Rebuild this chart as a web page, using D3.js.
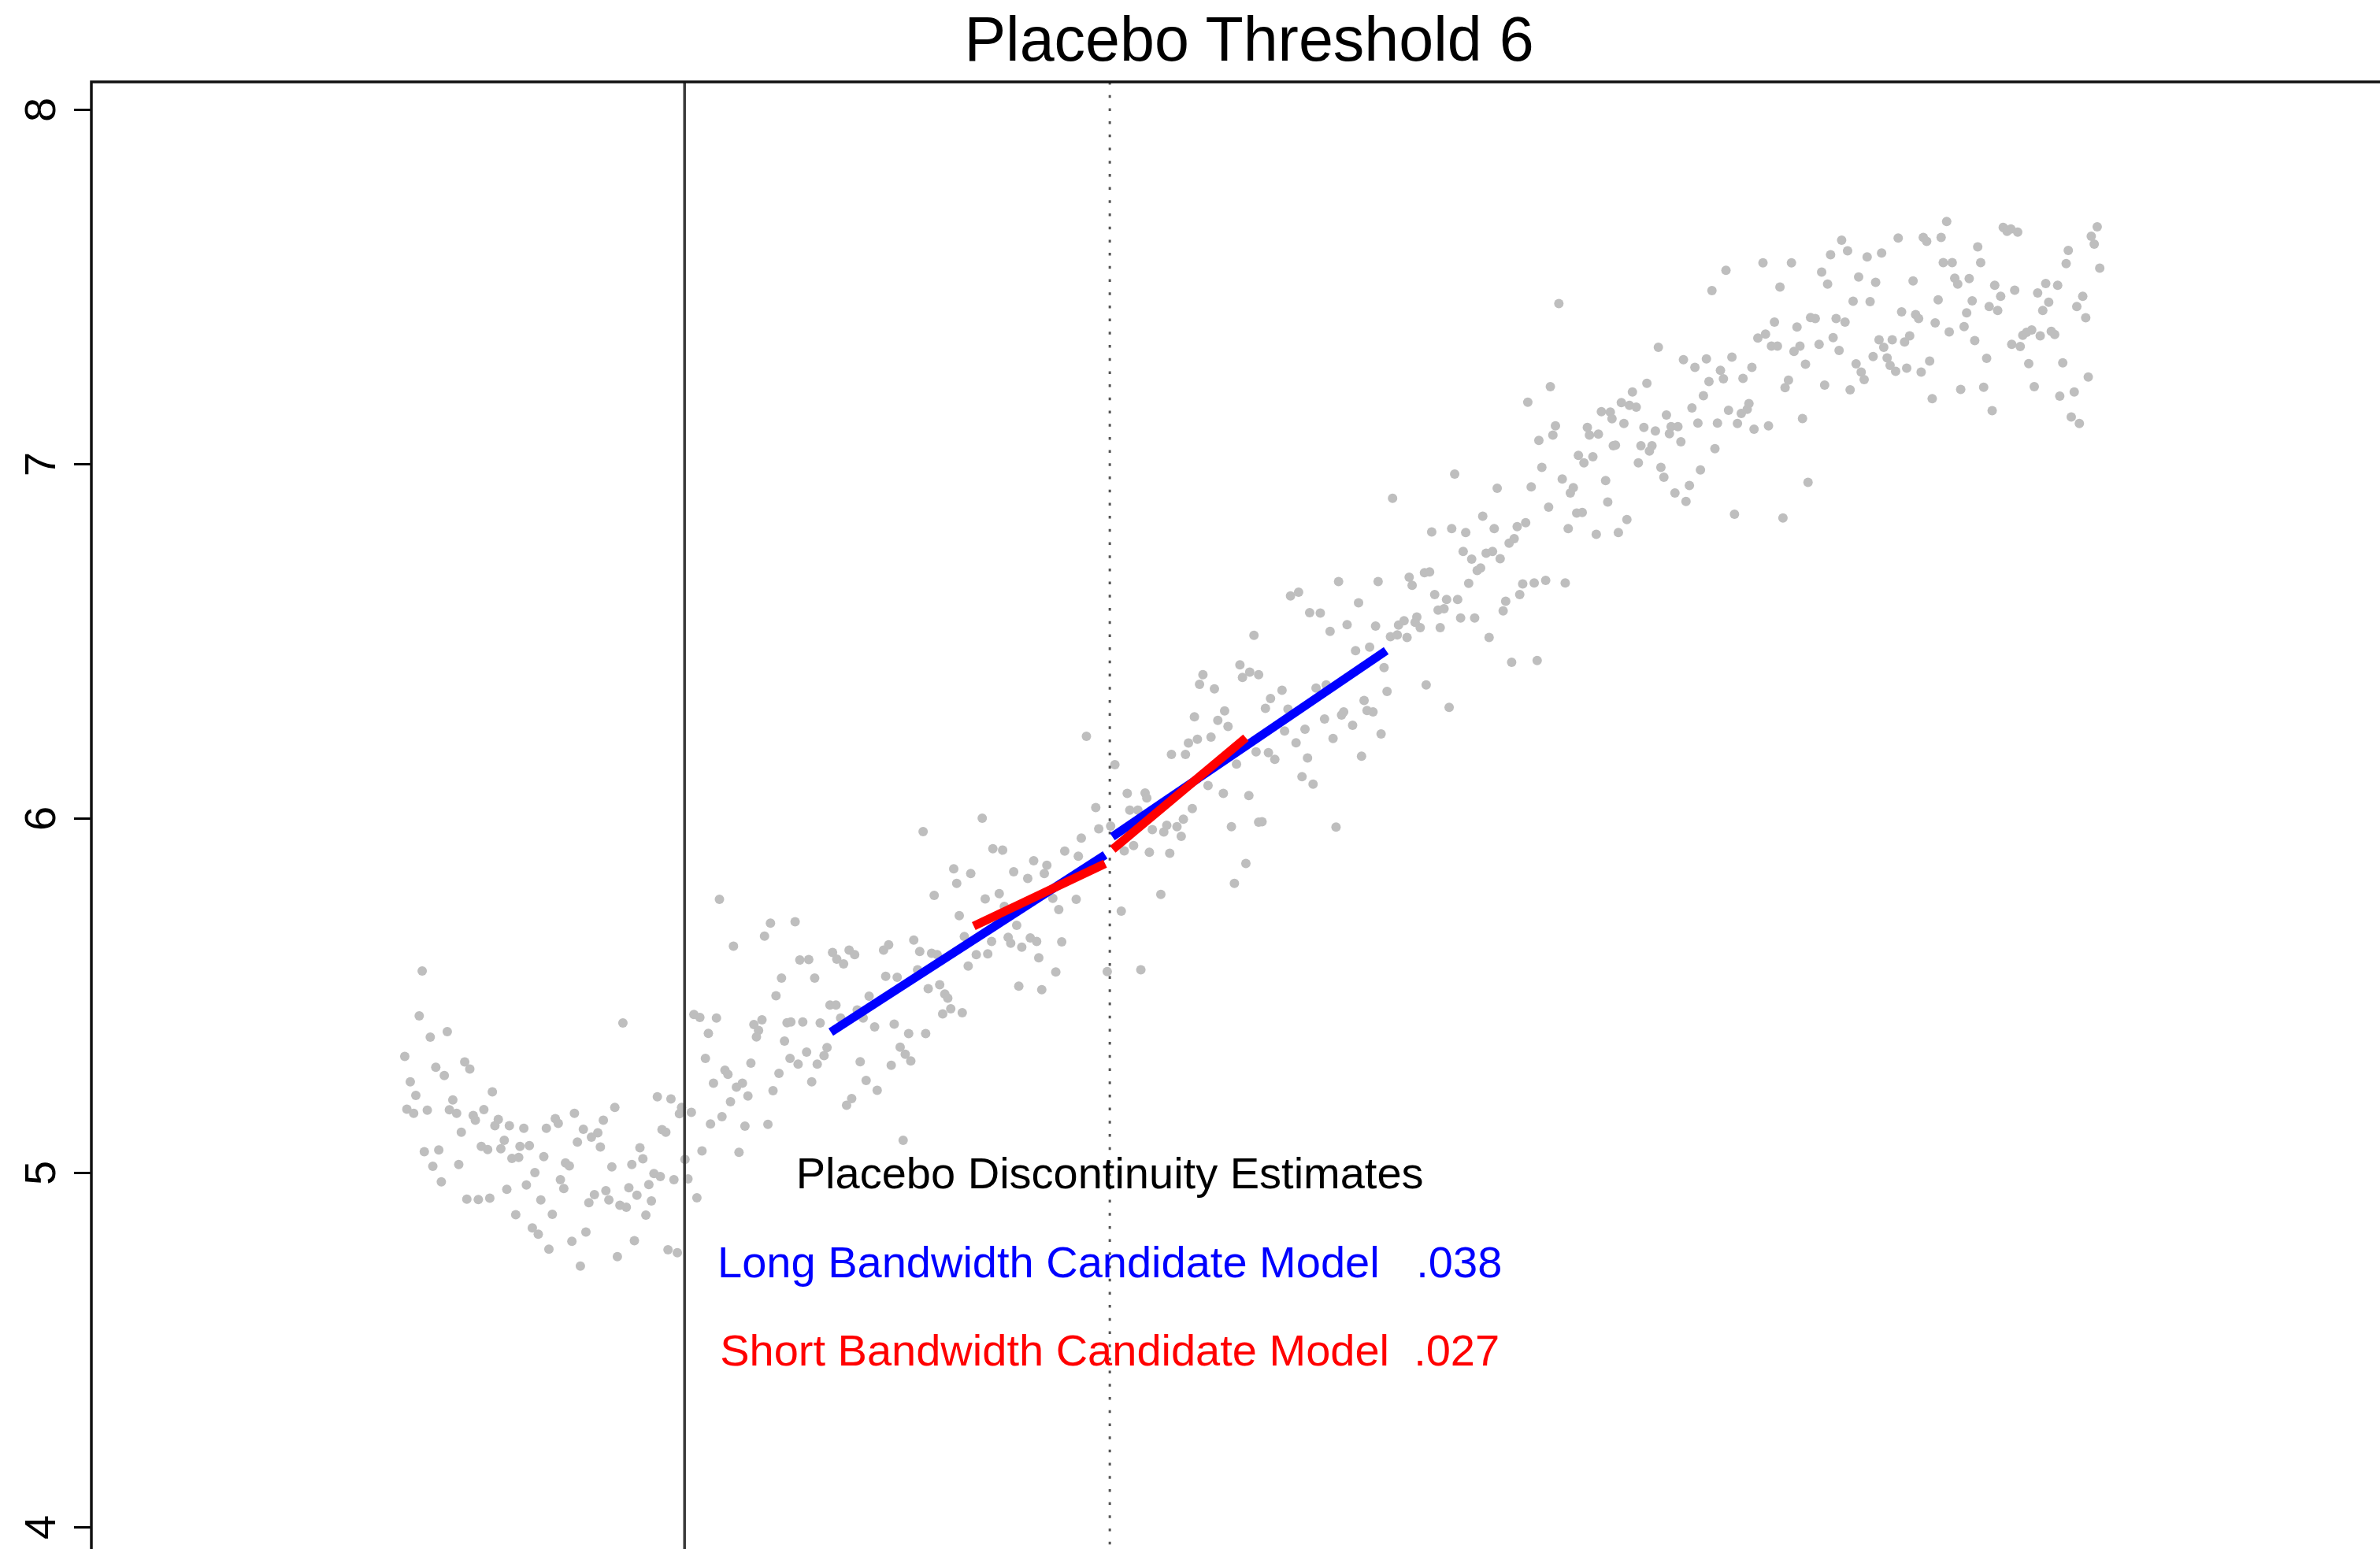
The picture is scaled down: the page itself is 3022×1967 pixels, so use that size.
<!DOCTYPE html>
<html>
<head>
<meta charset="utf-8">
<script src="https://cdn.jsdelivr.net/npm/d3@7"></script>
<style>
  html, body { margin: 0; padding: 0; background: #fff; overflow: hidden; }
  svg { display: block; }
  text { font-family: "Liberation Sans", Arial, Helvetica, sans-serif; }
</style>
</head>
<body>
<svg id="chart" width="3022" height="1967"></svg>
<script>
// ---- data -------------------------------------------------------------
const chartTitle = "Placebo Threshold 6";
const actualCutoff = 5;
const placeboCutoff = 6;
const yTickValues = [4, 5, 6, 7, 8];

// binned observations: [running variable, outcome]
const observations = [
  [4.383,5.569],[4.376,5.442],[4.402,5.382],[4.442,5.398],[4.342,5.328],[4.415,5.297],[4.435,5.274],[4.483,5.312],[4.495,5.292],[4.355,5.256],
  [4.368,5.218],[4.347,5.179],[4.363,5.167],[4.395,5.176],[4.455,5.205],[4.447,5.177],[4.464,5.167],[4.548,5.228],[4.503,5.161],[4.508,5.148],
  [4.528,5.178],[4.562,5.150],[4.554,5.132],[4.475,5.114],[4.588,5.132],[4.622,5.125],[4.388,5.059],[4.422,5.064],[4.408,5.018],[4.428,4.974],
  [4.469,5.023],[4.522,5.074],[4.537,5.065],[4.576,5.091],[4.568,5.067],[4.613,5.074],[4.635,5.076],[4.594,5.040],[4.610,5.043],[4.669,5.045],
  [4.648,5.000],[4.628,4.965],[4.582,4.953],[4.488,4.925],[4.515,4.924],[4.542,4.928],[4.662,4.923],[4.603,4.881],[4.689,4.882],[4.642,4.844],
  [4.656,4.826],[4.681,4.784],[4.735,4.806],[4.768,4.832],[4.755,4.736],[4.842,4.763],[4.882,4.808],[4.961,4.782],[4.983,4.774],[4.696,5.152],
  [4.703,5.139],[4.675,5.125],[4.741,5.167],[4.762,5.122],[4.748,5.086],[4.781,5.100],[4.796,5.112],[4.802,5.072],[4.809,5.148],[4.836,5.184],
  [4.720,5.027],[4.729,5.019],[4.708,4.980],[4.716,4.955],[4.829,5.016],[4.788,4.938],[4.775,4.915],[4.815,4.949],[4.822,4.923],[4.848,4.908],
  [4.863,4.902],[4.869,4.957],[4.888,4.936],[4.876,5.023],[4.895,5.070],[4.902,5.039],[4.928,4.997],[4.943,4.989],[4.916,4.966],[4.922,4.920],
  [4.909,4.880],[4.936,5.214],[4.968,5.208],[4.947,5.121],[4.956,5.114],[4.855,5.422],[4.975,4.980],[4.993,5.184],[4.988,5.166],[5.016,5.170],
  [5.001,5.037],[5.008,4.982],[5.029,4.929],[5.041,5.061],[5.061,5.137],[5.088,5.158],[5.108,5.200],[5.128,5.057],[5.142,5.131],[5.196,5.136],
  [5.149,5.216],[5.122,5.241],[5.136,5.252],[5.208,5.231],[5.068,5.252],[5.049,5.322],[5.095,5.289],[5.102,5.277],[5.156,5.309],[5.056,5.393],
  [5.022,5.446],[5.036,5.438],[5.075,5.436],[5.082,5.771],[5.115,5.639],[5.188,5.667],[5.202,5.704],[5.163,5.418],[5.174,5.401],[5.169,5.383],
  [5.182,5.431],[5.228,5.549],[5.215,5.499],[5.235,5.371],[5.222,5.280],[5.241,5.423],
  [5.260,5.708],[5.271,5.600],[5.292,5.601],[5.306,5.549],[5.348,5.621],[5.358,5.602],[5.374,5.589],[5.387,5.628],[5.400,5.615],[5.468,5.628],
  [5.480,5.643],[5.539,5.656],[5.553,5.624],[5.581,5.619],[5.594,5.615],[5.548,5.572],[5.473,5.554],[5.500,5.551],[5.573,5.519],[5.600,5.530],
  [5.612,5.504],[5.619,5.492],[5.626,5.462],[5.607,5.448],[5.653,5.451],[5.342,5.473],[5.356,5.473],[5.434,5.498],[5.406,5.459],[5.420,5.436],
  [5.367,5.436],[5.250,5.425],[5.278,5.425],[5.319,5.422],[5.447,5.411],[5.493,5.419],[5.527,5.392],[5.567,5.392],[5.335,5.353],[5.328,5.330],
  [5.312,5.306],[5.287,5.340],[5.267,5.306],[5.248,5.322],[5.413,5.313],[5.507,5.354],[5.519,5.334],[5.532,5.315],[5.486,5.303],[5.299,5.256],
  [5.427,5.260],[5.453,5.232],[5.393,5.209],[5.381,5.190],[5.514,5.091],[5.561,5.962],[5.587,5.782],[5.633,5.857],[5.673,5.844],[5.640,5.816],
  [5.646,5.725],[5.700,6.000],[5.725,5.914],[5.748,5.910],[5.707,5.772],[5.740,5.787],[5.752,5.751],[5.774,5.849],[5.807,5.830],[5.821,5.880],
  [5.852,5.867],[5.846,5.844],[5.658,5.666],[5.686,5.615],[5.667,5.583],[5.713,5.617],[5.722,5.652],[5.761,5.664],[5.767,5.647],[5.793,5.636],
  [5.813,5.662],[5.828,5.652],[5.833,5.606],[5.781,5.698],[5.786,5.526],[5.840,5.516],[5.873,5.566],[5.887,5.651],[5.866,5.774],[5.880,5.742],
  [5.921,5.771],[5.894,5.907],[5.926,5.893],[5.933,5.944],[5.967,6.030],[5.974,5.970],[5.994,5.567],[6.027,5.738],[6.073,5.572],[6.120,5.785],
  [6.041,6.070],[6.083,6.071],[6.087,6.057],[6.047,6.023],[6.066,6.023],[6.002,5.978],[6.034,5.908],[6.056,5.923],[6.093,5.904],[6.100,5.968],
  [6.127,5.961],[6.134,5.980],[6.141,5.901],[6.158,5.976],[6.168,5.949],[6.173,5.997],[6.194,6.027],[6.267,6.070],[6.327,6.064],[6.286,5.976],
  [6.320,5.872],[6.293,5.816],[6.350,5.989],
  [6.339,6.516],[6.211,6.378],[6.219,6.405],[6.246,6.365],[6.199,6.286],[6.254,6.276],[6.270,6.303],[6.278,6.259],[6.238,6.229],[6.185,6.212],
  [6.206,6.223],[6.145,6.180],[6.178,6.180],[6.306,6.433],[6.312,6.397],[6.329,6.412],[6.350,6.405],[6.344,6.187],[6.298,6.153],[6.231,6.092],
  [5.945,6.231],[6.012,6.151],
  [6.665,6.903],[6.811,6.971],[6.911,6.931],[6.991,6.935],[7.064,6.957],[7.090,6.933],[7.083,6.918],[7.166,6.953],[7.171,6.892],[7.032,6.878],
  [6.877,6.852],[6.904,6.817],[6.837,6.806],[6.804,6.817],[6.757,6.808],[6.958,6.823],[6.978,6.834],[7.078,6.817],[7.098,6.861],[7.111,6.863],
  [7.144,6.801],[6.831,6.753],[6.851,6.731],[6.885,6.748],[6.900,6.753],[6.918,6.732],[6.939,6.776],[6.951,6.789],[6.864,6.699],[6.872,6.706],
  [6.844,6.663],[6.704,6.680],[6.711,6.657],[6.740,6.693],[6.752,6.695],[6.631,6.668],[6.538,6.668],[6.764,6.631],[6.792,6.617],[6.818,6.617],
  [6.772,6.587],[6.786,6.591],[6.971,6.661],[6.998,6.664],[7.025,6.671],[7.071,6.664],[6.964,6.631],[6.931,6.612],[6.925,6.585],[6.825,6.565],
  [6.858,6.565],[6.892,6.510],[6.777,6.538],[6.730,6.538],[6.722,6.568],[6.718,6.553],[6.692,6.557],[6.679,6.545],[6.699,6.510],[6.660,6.512],
  [6.676,6.517],[6.625,6.542],[6.585,6.608],[6.558,6.546],[6.518,6.527],[6.425,6.627],[6.444,6.638],[6.470,6.580],[6.495,6.579],[6.945,6.440],
  [7.005,6.445],[6.744,6.376],[6.798,6.313],[6.611,6.483],[6.578,6.473],[6.645,6.425],[6.652,6.358],[6.598,6.332],[6.605,6.304],[6.619,6.300],
  [6.571,6.262],[6.545,6.291],[6.550,6.300],[6.505,6.280],[6.525,6.225],[6.459,6.251],[6.438,6.213],[6.465,6.170],[6.485,6.367],[6.509,6.376],
  [6.638,6.238],[6.592,6.175],[6.405,6.361],[6.378,6.338],[6.366,6.310],[6.419,6.308],[6.411,6.246],[6.373,6.185],[6.388,6.166],[6.452,6.117],
  [6.478,6.096],[6.532,5.975],[6.358,5.990],
  [7.056,7.452],[7.036,7.218],[6.983,7.174],[7.156,7.147],[7.177,7.146],[7.181,7.127],[7.048,7.107],[7.042,7.081],[7.009,7.066],[7.123,7.103],
  [7.128,7.081],[7.149,7.084],[7.184,7.051],[7.102,7.024],[7.115,7.003],[7.136,7.020],[7.016,6.990],
  [7.290,7.329],[7.416,7.489],[7.449,7.546],[7.536,7.567],[7.603,7.567],[7.576,7.499],[7.563,7.400],[7.524,7.355],[7.542,7.366],[7.556,7.332],
  [7.570,7.332],[7.616,7.386],[7.609,7.317],[7.623,7.332],[7.636,7.281],[7.648,7.413],[7.349,7.294],[7.376,7.272],[7.403,7.296],[7.463,7.301],
  [7.436,7.264],[7.443,7.240],[7.409,7.232],[7.396,7.192],[7.489,7.241],[7.510,7.272],[7.263,7.227],[7.229,7.203],[7.203,7.173],[7.222,7.165],
  [7.238,7.160],[7.209,7.114],[7.189,7.053],[7.256,7.103],[7.283,7.093],[7.309,7.138],[7.320,7.105],[7.336,7.105],[7.316,7.085],[7.343,7.062],
  [7.249,7.051],[7.275,7.051],[7.269,7.036],[7.243,7.003],[7.296,6.990],[7.303,6.962],[7.369,7.158],[7.383,7.115],[7.429,7.115],[7.455,7.151],
  [7.476,7.114],[7.485,7.142],[7.499,7.154],[7.503,7.170],[7.515,7.098],[7.549,7.107],[7.423,7.043],[7.389,6.983],[7.363,6.939],[7.329,6.918],
  [7.355,6.894],[7.469,6.858],[7.583,6.847],[7.642,6.948],[7.629,7.128],[7.588,7.215],[7.596,7.236],[7.216,6.843],[7.196,6.806],
  [7.968,7.684],[8.101,7.667],[8.110,7.656],[8.119,7.663],[8.135,7.654],[8.322,7.669],[8.308,7.642],[8.315,7.620],[8.328,7.552],[7.721,7.631],
  [7.735,7.601],[7.695,7.590],[7.781,7.584],[7.815,7.595],[7.854,7.637],[7.913,7.639],[7.921,7.628],[7.955,7.639],[7.674,7.541],[7.688,7.507],
  [7.761,7.527],[7.801,7.512],[7.889,7.516],[7.960,7.568],[7.981,7.568],[8.041,7.612],[8.048,7.568],[8.254,7.602],[8.249,7.565],[7.987,7.524],
  [7.994,7.507],[8.021,7.523],[8.081,7.504],[8.128,7.490],[8.095,7.473],[8.182,7.482],[8.201,7.509],[8.229,7.504],[7.748,7.459],[7.788,7.458],
  [7.948,7.463],[8.028,7.460],[8.068,7.444],[8.088,7.433],[8.208,7.456],[8.194,7.433],[8.288,7.473],[8.274,7.444],[8.295,7.412],[7.659,7.410],
  [7.708,7.410],[7.729,7.400],[7.862,7.429],[7.895,7.421],[7.902,7.410],[7.941,7.398],[8.015,7.426],[8.009,7.387],[7.974,7.372],[7.701,7.356],
  [7.668,7.337],[7.715,7.320],[7.809,7.350],[7.840,7.350],[7.820,7.329],[7.869,7.344],[7.881,7.361],[8.034,7.348],[7.795,7.303],[7.828,7.299],
  [7.835,7.278],[7.848,7.261],[7.755,7.282],[7.767,7.259],[7.774,7.238],[7.874,7.270],[7.908,7.259],[7.928,7.290],[8.062,7.298],[8.121,7.337],
  [8.141,7.331],[8.147,7.363],[8.156,7.371],[8.168,7.378],[8.188,7.361],[8.214,7.374],[8.222,7.365],[8.161,7.283],[8.241,7.285],[7.681,7.222],
  [7.741,7.209],[7.934,7.184],[8.001,7.210],[8.055,7.216],[8.075,7.150],[8.174,7.218],[8.234,7.191],[8.268,7.203],[8.301,7.245],[8.261,7.132],
  [8.280,7.114]
];

// local linear fits on each side of the placebo cutoff
const modelNames   = ["Long Bandwidth Candidate Model", "Short Bandwidth Candidate Model"];
const modelGaps    = [3, 2];                 // spaces between name and estimate
const estimates    = [0.038, 0.027];        // placebo discontinuity estimates
const leftRanges   = [[5.344, 5.989], [5.680, 5.989]];
const rightRanges  = [[6.006, 6.650], [6.007, 6.320]];
const leftAtCutoff = [5.905, 5.878];        // fitted value approaching the cutoff from below
const leftSlopes   = [0.775, 0.570];
const rightSlopes  = [0.815, 1.006];
const legendTitle  = "Placebo Discontinuity Estimates";
const legendRows   = [5, 4.75, 4.5];        // outcome-scale rows for the annotation

// ---- layout -----------------------------------------------------------
const plot = { left: 116, right: 3056, top: 104, bottom: 1984 };
const colors = { points: "#bebebe", long: "#0000ff", short: "#ff0000" };

const svg = d3.select("#chart");

const x = d3.scaleLinear().domain([3.605, 9.05]).range([plot.left, plot.right]);
const y = d3.scaleLinear().domain([4, 8]).range([1939, 139]);

// title, centred over the plotting region
svg.append("text")
  .attr("x", (plot.left + plot.right) / 2)
  .attr("y", 77)
  .attr("text-anchor", "middle")
  .attr("font-size", 79)
  .attr("fill", "#000")
  .text(chartTitle);

// scatter of observations
svg.append("g")
  .selectAll("circle")
  .data(observations)
  .join("circle")
  .attr("cx", d => x(d[0]))
  .attr("cy", d => y(d[1]))
  .attr("r", 6)
  .attr("fill", colors.points);

// actual cutoff (solid) and placebo cutoff (dotted)
svg.append("line")
  .attr("x1", x(actualCutoff)).attr("x2", x(actualCutoff))
  .attr("y1", plot.top).attr("y2", plot.bottom)
  .attr("stroke", "#3a3a3a").attr("stroke-width", 3.5);

svg.append("line")
  .attr("x1", x(placeboCutoff)).attr("x2", x(placeboCutoff))
  .attr("y1", plot.top).attr("y2", plot.bottom)
  .attr("stroke", "#555").attr("stroke-width", 3)
  .attr("stroke-dasharray", "3.5 13.2");

// fitted segments: long bandwidth first, short bandwidth drawn over it
const line = d3.line().x(d => x(d[0])).y(d => y(d[1]));
const fits = svg.append("g").attr("fill", "none").attr("stroke-width", 11).attr("stroke-linecap", "butt");
[0, 1].forEach(i => {
  const col = i === 0 ? colors.long : colors.short;
  const leftFit = xv => leftAtCutoff[i] + leftSlopes[i] * (xv - placeboCutoff);
  const rightFit = xv => leftAtCutoff[i] + estimates[i] + rightSlopes[i] * (xv - placeboCutoff);
  fits.append("path")
    .attr("d", line(leftRanges[i].map(v => [v, leftFit(v)])))
    .attr("stroke", col);
  fits.append("path")
    .attr("d", line(rightRanges[i].map(v => [v, rightFit(v)])))
    .attr("stroke", col);
});

// annotation block centred on the placebo cutoff
const fmt = v => d3.format(".3f")(v).replace(/^0/, "");
const notes = svg.append("g")
  .attr("text-anchor", "middle")
  .attr("font-size", 56);
notes.append("text")
  .attr("x", x(placeboCutoff)).attr("y", y(legendRows[0])).attr("dy", "0.36em")
  .attr("fill", "#000")
  .text(legendTitle);
modelNames.forEach((name, i) => {
  notes.append("text")
    .attr("xml:space", "preserve")
    .attr("x", x(placeboCutoff)).attr("y", y(legendRows[i + 1])).attr("dy", "0.36em")
    .attr("fill", i === 0 ? colors.long : colors.short)
    .text(name + "\u00a0".repeat(modelGaps[i]) + fmt(estimates[i]));
});

// y axis: ticks and rotated labels
const yAxis = svg.append("g").attr("transform", `translate(${plot.left},0)`)
  .call(d3.axisLeft(y).tickValues(yTickValues).tickSize(22).tickPadding(0).tickFormat(d3.format("d")));
yAxis.select(".domain").remove();
yAxis.selectAll(".tick line").attr("stroke", "#000").attr("stroke-width", 3);
yAxis.selectAll(".tick text")
  .attr("font-size", 56)
  .attr("fill", "#000")
  .attr("font-family", "'Liberation Sans', Arial, Helvetica, sans-serif")
  .attr("text-anchor", "middle")
  .attr("dy", null)
  .attr("x", null)
  .attr("transform", "translate(-46,0) rotate(-90)");

// plot frame
svg.append("rect")
  .attr("x", plot.left).attr("y", plot.top)
  .attr("width", plot.right - plot.left).attr("height", plot.bottom - plot.top)
  .attr("fill", "none").attr("stroke", "#111").attr("stroke-width", 3.5);
</script>
</body>
</html>
